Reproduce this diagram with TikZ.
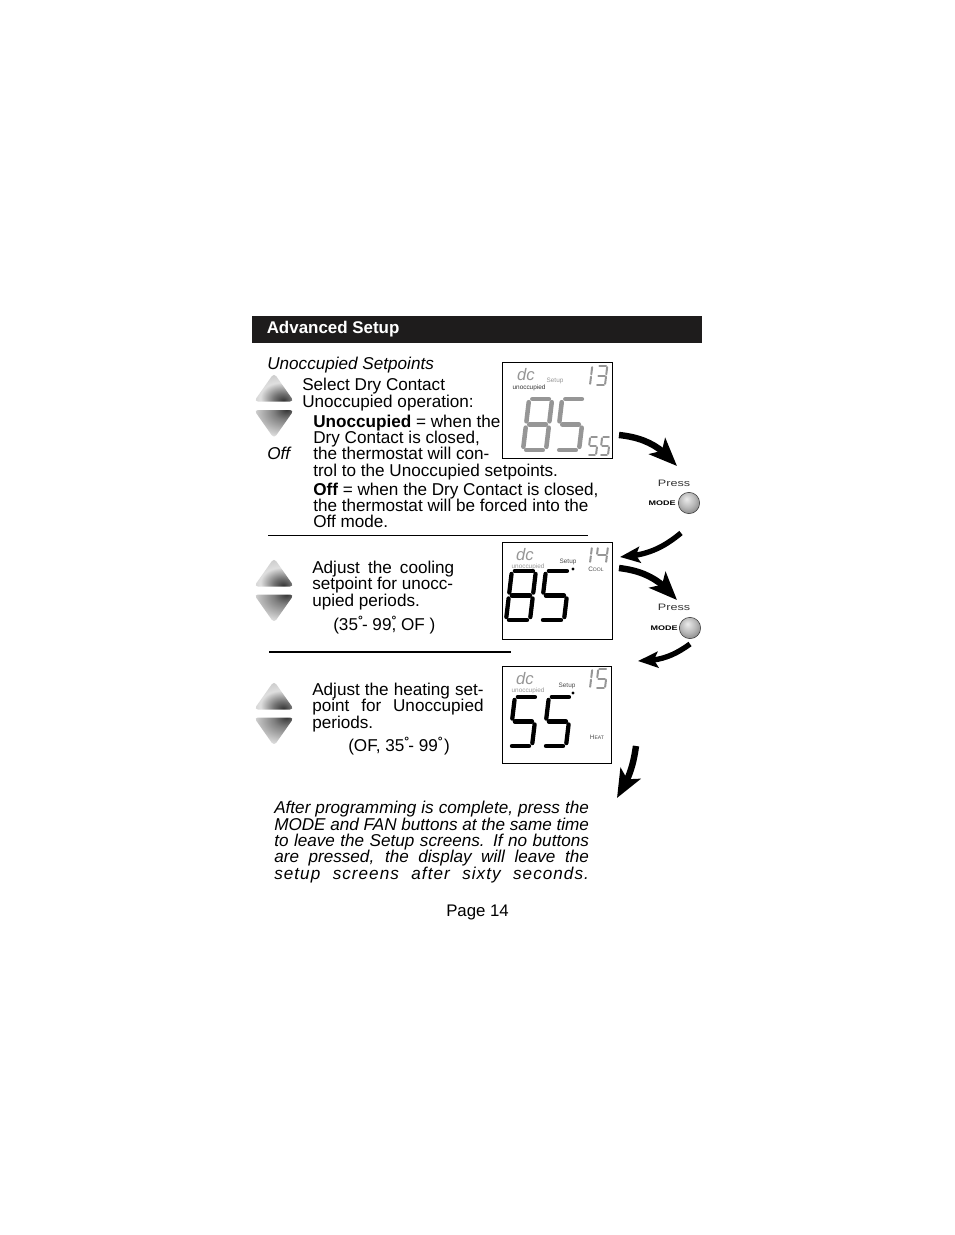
\documentclass[tikz,border=0pt]{standalone}
\usepackage{fontspec}
\setmainfont{Liberation Sans}
\newfontfamily\widefont[FakeStretch=1.35]{Liberation Sans}
\usetikzlibrary{arrows.meta,bending}
\definecolor{lcdGris}{RGB}{150,150,150}
\definecolor{bandaNegra}{RGB}{30,28,28}
\pgfdeclareradialshading{keyup}{\pgfpoint{12bp}{-24bp}}{color(0bp)=(black!80); color(11bp)=(black!55); color(26bp)=(gray!25); color(50bp)=(gray!55); color(100bp)=(gray!80)}
\pgfdeclareradialshading{keydown}{\pgfpoint{16bp}{26bp}}{color(0bp)=(black!80); color(14bp)=(black!50); color(40bp)=(gray!20); color(100bp)=(gray!40)}
\pgfdeclareradialshading{modeball}{\pgfpoint{-6bp}{10bp}}{color(0bp)=(gray!15); color(18bp)=(gray!55); color(34bp)=(gray); color(50bp)=(black!75); color(64bp)=(black!90)}
% segment lists
\newcommand{\lcdEight}{tl/tr,tr/mr,mr/br,bl/br,ml/bl,tl/ml,ml/mr}
\newcommand{\lcdFive}{tl/tr,tl/ml,ml/mr,mr/br,bl/br}
\newcommand{\lcdOne}{tr/mr,mr/br}
\newcommand{\lcdThree}{tl/tr,tr/mr,ml/mr,mr/br,bl/br}
\newcommand{\lcdFour}{tl/ml,ml/mr,tr/mr,mr/br}
% style, x, y (lower left), width, height, segments
\newcommand{\lcdDigit}[6]{%
  \begin{scope}[shift={(#2,#3)},xslant=0.12]
    \coordinate (bl) at (0,0);      \coordinate (br) at (#4,0);
    \coordinate (ml) at (0,-#5/2);  \coordinate (mr) at (#4,-#5/2);
    \coordinate (tl) at (0,-#5);    \coordinate (tr) at (#4,-#5);
  \end{scope}
  \foreach \p/\q in #6 {\draw[#1] (\p) -- (\q);}
}
\newcommand{\gradoMark}{\raisebox{4pt}{\rlap{\small\bfseries °}}}
\begin{document}
\begin{tikzpicture}[
  x=0.75pt, y=-0.75pt,
  body/.style    = {anchor=base west, inner sep=0pt, align=left,
                    font=\fontsize{12.85}{12.25}\selectfont},
  screen/.style  = {rectangle, draw=black, line width=0.8pt, inner sep=0pt,
                    minimum width=82pt, minimum height=72.5pt},
  tiny/.style    = {inner sep=0pt, font=\fontsize{4.8}{5}\selectfont},
  dcmark/.style  = {inner sep=0pt, text=lcdGris, font=\fontsize{12.5}{13}\selectfont\itshape},
  segbig/.style  = {line width=3.2pt, line cap=round, color=black, shorten >=2.2pt, shorten <=2.2pt},
  seggray/.style = {line width=3.4pt, line cap=round, color=lcdGris, shorten >=2.4pt, shorten <=2.4pt},
  segthin/.style = {line width=1.5pt, line cap=round, color=lcdGris, shorten >=0.9pt, shorten <=0.9pt},
  bigflow/.style = {-{Stealth[length=21pt,width=17pt,inset=5pt]}, line width=4.8pt, color=black},
  smallflow/.style = {-{Stealth[length=15pt,width=12pt,inset=3pt]}, line width=4pt, color=black},
  modebtn/.style = {circle, draw=black!80, line width=0.4pt, minimum size=16pt, inner sep=0pt, shading=modeball},
  press/.style   = {inner sep=0pt, text=black!80, font=\fontsize{7}{7}\selectfont\widefont},
  modetxt/.style = {inner sep=0pt, font=\fontsize{5}{5}\selectfont\widefont\bfseries},
  setpt/.style   = {fill=black, circle, inner sep=0pt},
  upkey/.pic     = {\shade[shading=keyup,rounded corners=3pt] (-20,13.5) -- (0,-15) -- (20,13.5) -- cycle;},
  downkey/.pic   = {\shade[shading=keydown,rounded corners=3pt] (-20,-13.5) -- (0,15) -- (20,-13.5) -- cycle;},
]
\useasboundingbox (0,0) rectangle (954,1235);

% -- Title band --------------------------------------------
\node[fill=bandaNegra, minimum width=337.5pt, minimum height=20.2pt, inner sep=0pt] (band) at (477,329.5) {};
\node[anchor=base west, inner sep=0pt, text=white, font=\fontsize{12.7}{13}\selectfont\bfseries] (title) at (266.5,333) {Advanced Setup};

% -- First block --------------------------------------------
\node[body,font=\fontsize{12.85}{13}\selectfont\itshape] (head) at (267,369) {Unoccupied Setpoints};
\node[body] (sel)  at (302,407) {Select Dry Contact\\Unoccupied operation:};
\node[body] (unoc) at (313,476) {\textbf{Unoccupied} = when the\\Dry Contact is closed,\\the thermostat will con-\\trol to the Unoccupied setpoints.};
\node[body] (offt) at (313,527.7) {\textbf{Off} = when the Dry Contact is closed,\\the thermostat will be forced into the\\Off mode.};
\node[body,font=\fontsize{12.85}{13}\selectfont\itshape] (offm) at (267,459) {Off};
\pic (upA) at (274,388) {upkey};
\pic (downA) at (274,423.5) {downkey};
\coordinate (ruleAa) at (268,535); \coordinate (ruleAb) at (588,535);
\draw[line width=0.6pt] (ruleAa) -- (ruleAb);

% -- Second block -------------------------------------------
\node[body] (cool) at (312,606) {\makebox[106.5pt][s]{Adjust the cooling}\\setpoint for unocc-\\upied periods.};
\node[body] (rngc) at (333,630) {(35\gradoMark\kern3pt- 99\gradoMark, OF )};
\pic (upB) at (274,573) {upkey};
\pic (downB) at (274,608) {downkey};
\coordinate (ruleBa) at (269,651.5); \coordinate (ruleBb) at (511,651.5);
\draw[line width=1.5pt] (ruleBa) -- (ruleBb);

% -- Third block --------------------------------------------
\node[body] (heat) at (312,728) {\makebox[128.5pt][s]{Adjust the heating set-}\\\makebox[128.5pt][s]{point for Unoccupied}\\periods.};
\node[body] (rngh) at (348,751) {(OF, 35\gradoMark\kern3pt- 99\gradoMark\kern1pt\ )};
\pic (upC) at (274,696) {upkey};
\pic (downC) at (274,731) {downkey};

% -- Screens ------------------------------------------------
\node[screen] (lcdA) at (557.5,410.5) {};
\node[dcmark] (dcA) at (526,375) {dc};
\node[tiny,text=black!80] (unA) at (529,388) {unoccupied};
\node[tiny,text=lcdGris] (suA) at (555,381) {Setup};
\lcdDigit{segthin}{589}{385}{1}{19}{\lcdOne}
\lcdDigit{segthin}{596}{385}{9}{19}{\lcdThree}
\lcdDigit{seggray}{523}{450}{23}{51}{\lcdEight}
\lcdDigit{seggray}{556}{450}{23}{51}{\lcdFive}
\lcdDigit{segthin}{588}{455}{8}{18}{\lcdFive}
\lcdDigit{segthin}{600}{455}{8}{18}{\lcdFive}

\node[screen] (lcdB) at (557.5,591) {};
\node[dcmark] (dcB) at (525,555) {dc};
\node[tiny,text=lcdGris] (unB) at (528,567) {unoccupied};
\node[tiny,text=black!70] (suB) at (568,562) {Setup};
\node[setpt,minimum size=2.5pt] (ptB) at (573,569) {};
\node[tiny,text=black!70] (coolB) at (596,569) {C{\fontsize{3.8}{4}\selectfont OOL}};
\lcdDigit{segthin}{589}{563}{1}{16}{\lcdOne}
\lcdDigit{segthin}{596}{563}{10}{16}{\lcdFour}
\lcdDigit{segbig}{506}{620}{24}{49}{\lcdEight}
\lcdDigit{segbig}{540}{620}{24}{49}{\lcdFive}

\node[screen] (lcdC) at (557,715) {};
\node[dcmark] (dcC) at (525,679) {dc};
\node[tiny,text=lcdGris] (unC) at (528,691) {unoccupied};
\node[tiny,text=black!70] (suC) at (567,686) {Setup};
\node[setpt,minimum size=2.5pt] (ptC) at (573,693) {};
\node[tiny,text=black!70] (heatC) at (597,737) {H{\fontsize{3.8}{4}\selectfont EAT}};
\lcdDigit{segthin}{589}{688}{1}{19}{\lcdOne}
\lcdDigit{segthin}{596}{688}{9}{19}{\lcdFive}
\lcdDigit{segbig}{509}{746}{23}{49}{\lcdFive}
\lcdDigit{segbig}{543}{746}{23}{49}{\lcdFive}

% -- Mode buttons -------------------------------------------
\node[press] (pressA) at (674,483) {Press};
\node[modetxt] (mtA) at (662,503) {MODE};
\node[modebtn] (btnA) at (689,503) {};
\node[press] (pressB) at (674,607) {Press};
\node[modetxt] (mtB) at (664,628) {MODE};
\node[modebtn] (btnB) at (690,628) {};

% -- Flow arrows --------------------------------------------
\coordinate (fAs) at (619,435); \coordinate (fAe) at (677,466);
\coordinate (fBs) at (681,533); \coordinate (fBe) at (620,557);
\coordinate (fCs) at (619,568); \coordinate (fCe) at (677,600);
\coordinate (fDs) at (690,644); \coordinate (fDe) at (638,661);
\coordinate (fEs) at (636,746); \coordinate (fEe) at (617,798);
\draw[bigflow] (fAs) to[bend left=22] (fAe);
\draw[smallflow] (fBs) to[bend left=18] (fBe);
\draw[bigflow] (fCs) to[bend left=22] (fCe);
\draw[smallflow] (fDs) to[bend left=18] (fDe);
\draw[bigflow] (fEs) to[bend left=12] (fEe);

% -- Closing text -------------------------------------------
\node[body,font=\fontsize{12.85}{12.25}\selectfont\itshape] (closing) at (274,879) {%
  \makebox[236pt][s]{After programming is complete, press the}\\
  \makebox[236pt][s]{MODE and FAN buttons at the same time}\\
  \makebox[236pt][s]{to leave the Setup screens.  If no buttons}\\
  \makebox[236pt][s]{are pressed, the display will leave the}\\
  \makebox[236pt][s]{\addfontfeature{LetterSpace=6}setup screens after sixty seconds.}};
\node[body,font=\fontsize{12.6}{13}\selectfont] (page) at (446,916) {Page 14};
\end{tikzpicture}
\end{document}
